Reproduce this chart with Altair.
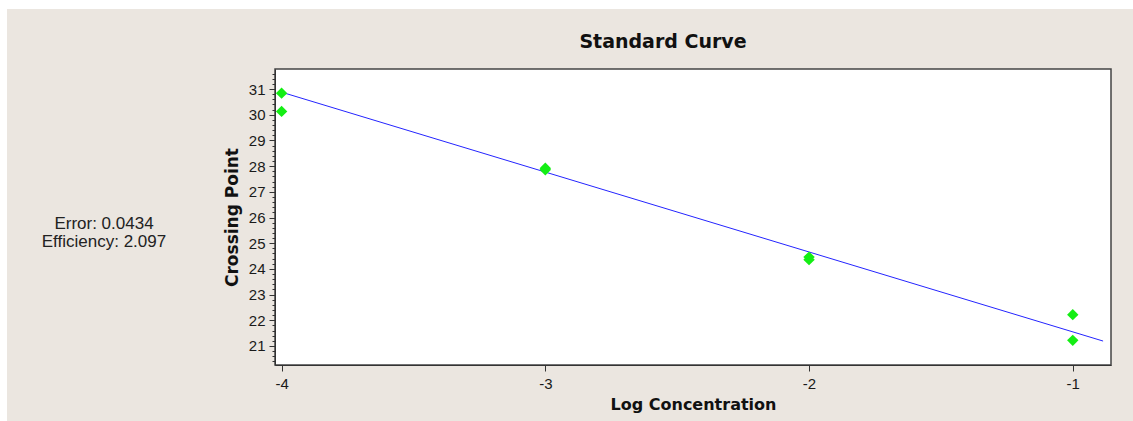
import math
import altair as alt
import pandas as pd

# Standard curve samples: log concentration vs. crossing point
log_conc = [-4, -4, -3, -3, -2, -2, -1, -1]
crossing_point = [30.84, 30.13, 27.92, 27.86, 24.46, 24.36, 22.22, 21.22]

# Fit statistics
error_value = 0.0434
efficiency_value = 2.097
fit_intercept = 18.44
fit_x = [-4.0, -0.885]

# Slope of the fitted line follows from the amplification efficiency
fit_slope = -1.0 / math.log10(efficiency_value)
fit_y = [fit_intercept + fit_slope * x for x in fit_x]

chart_title = "Standard Curve"
x_domain = [-4.025, -0.855]
y_domain = [20.26, 31.78]
x_ticks = [-4, -3, -2, -1]
y_ticks = [round(20.4 + 0.2 * i, 1) for i in range(58)]

W, H = 836, 296
PAD = {"left": 275, "top": 69, "right": 22, "bottom": 56}
BEIGE = "#ebe6e0"

points_df = pd.DataFrame({"x": log_conc, "y": crossing_point})
fit_df = pd.DataFrame({"x": fit_x, "y": fit_y})
one = pd.DataFrame({"k": [0]})
stats_df = pd.DataFrame({"t": [[f"Error: {error_value}", f"Efficiency: {efficiency_value}"]]})
title_df = pd.DataFrame({"t": [chart_title]})

major = "abs(datum.value - round(datum.value)) < 0.01"

x_scale = alt.Scale(domain=x_domain, nice=False, zero=False)
y_scale = alt.Scale(domain=y_domain, nice=False, zero=False)

x_axis = alt.Axis(
    values=x_ticks, title="Log Concentration", grid=False,
    domainColor="#333333", tickColor="#333333", tickSize=6,
    labelExpr="'' + datum.value",
    labelFont="Liberation Sans", labelFontSize=15, labelColor="#1a1a1a",
    labelPadding=5, labelFlush=False, labelOverlap=False,
    titleFont="DejaVu Sans", titleFontSize=16, titleFontWeight="bold",
    titleColor="#111111", titlePadding=5,
)
y_axis = alt.Axis(
    values=y_ticks, title="Crossing Point", grid=False,
    domainColor="#333333", tickColor="#333333",
    tickSize={"condition": {"test": major, "value": 6}, "value": 3},
    labelExpr=f"{major} ? '' + round(datum.value) : ''",
    labelFont="Liberation Sans", labelFontSize=15, labelColor="#1a1a1a",
    labelPadding=4, labelOverlap=False, labelFlush=False,
    titleFont="DejaVu Sans", titleFontSize=17, titleFontWeight="bold",
    titleColor="#111111", titlePadding=7,
)

x_enc = alt.X("x:Q", scale=x_scale, axis=x_axis)
y_enc = alt.Y("y:Q", scale=y_scale, axis=y_axis)

# White page margins at the top and left edges of the beige panel
left_strip = alt.Chart(one).mark_rect(color="white").encode(
    x=alt.value(-PAD["left"]), x2=alt.value(-PAD["left"] + 7),
    y=alt.value(-PAD["top"]), y2=alt.value(H + PAD["bottom"]),
)
top_strip = alt.Chart(one).mark_rect(color="white").encode(
    x=alt.value(-PAD["left"]), x2=alt.value(W + PAD["right"]),
    y=alt.value(-PAD["top"]), y2=alt.value(-PAD["top"] + 9),
)

fit_line = alt.Chart(fit_df).mark_line(color="#2424ff", strokeWidth=1).encode(
    x=x_enc, y=y_enc,
)

points = alt.Chart(points_df).mark_point(
    shape="diamond", filled=True, size=130, color="#14ee14", opacity=1
).encode(
    x=x_enc, y=y_enc,
)

stats = alt.Chart(stats_df).mark_text(
    font="Liberation Sans", fontSize=17, color="#222222",
    align="center", baseline="middle", lineHeight=18,
).encode(
    x=alt.value(-171), y=alt.value(155), text="t:N",
)

# Chart heading, set slightly left of the plot centre
heading = alt.Chart(title_df).mark_text(
    font="DejaVu Sans", fontSize=19, fontWeight="bold", color="#111111",
    align="center", baseline="middle",
).encode(
    x=alt.value(W / 2 - 30), y=alt.value(-27), text="t:N",
)

chart = alt.layer(left_strip, top_strip, fit_line, points, stats, heading).properties(
    width=W, height=H,
    autosize=alt.AutoSizeParams(type="none"),
    padding=PAD,
    background=BEIGE,
).configure_view(fill="white", stroke="#444444", strokeWidth=1.5
).configure_axis(labelOverlap=False)

chart.save("out.html", embed_options={"renderer": "svg", "actions": False})
